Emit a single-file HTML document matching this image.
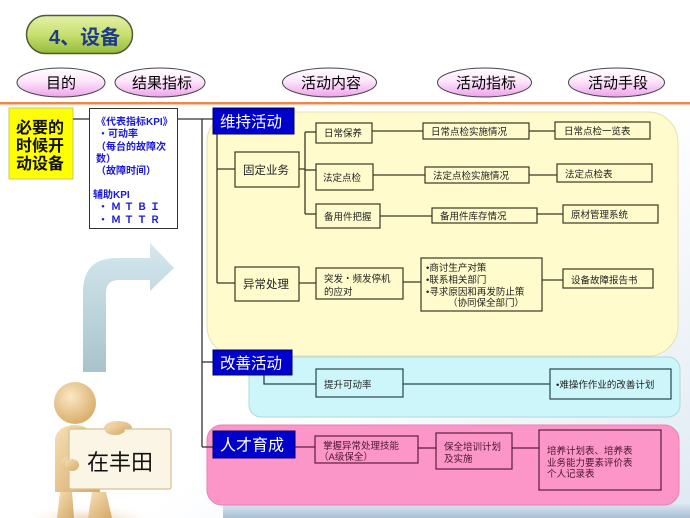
<!DOCTYPE html>
<html><head><meta charset="utf-8">
<style>
html,body{margin:0;padding:0;background:#fff;}
svg{display:block;}
text{font-family:"Liberation Sans","Noto Sans CJK SC",sans-serif;}
</style></head>
<body>
<svg width="690" height="518" viewBox="0 0 690 518" xmlns="http://www.w3.org/2000/svg">
<defs>
  <linearGradient id="bgR" x1="0" y1="0" x2="1" y2="1">
    <stop offset="0" stop-color="#ffffff"/>
    <stop offset="0.6" stop-color="#ffffff"/>
    <stop offset="1" stop-color="#dfe9f3"/>
  </linearGradient>
  <linearGradient id="bot" x1="0" y1="0" x2="0" y2="1">
    <stop offset="0" stop-color="#dbe6f0"/>
    <stop offset="1" stop-color="#a9bfd6"/>
  </linearGradient>
  <linearGradient id="pill" x1="0" y1="0" x2="0" y2="1">
    <stop offset="0" stop-color="#e4f0a8"/>
    <stop offset="0.5" stop-color="#c8e070"/>
    <stop offset="1" stop-color="#94bb38"/>
  </linearGradient>
  <linearGradient id="ell" x1="0" y1="0" x2="0" y2="1">
    <stop offset="0" stop-color="#ffffff"/>
    <stop offset="0.45" stop-color="#fde6fb"/>
    <stop offset="1" stop-color="#efa2ec"/>
  </linearGradient>
  <linearGradient id="arr" x1="0" y1="0" x2="0" y2="1">
    <stop offset="0" stop-color="#d4e8ee"/>
    <stop offset="1" stop-color="#a9c3cb"/>
  </linearGradient>
  <linearGradient id="skin" x1="0" y1="0" x2="1" y2="1">
    <stop offset="0" stop-color="#f6dfb4"/>
    <stop offset="1" stop-color="#d5a868"/>
  </linearGradient>
  <radialGradient id="head" cx="0.4" cy="0.35" r="0.7">
    <stop offset="0" stop-color="#fbe8c4"/>
    <stop offset="1" stop-color="#d7aa66"/>
  </radialGradient>
  <radialGradient id="glow" cx="0.5" cy="0.8" r="0.6">
    <stop offset="0" stop-color="#e8c898"/>
    <stop offset="1" stop-color="#ffffff" stop-opacity="0"/>
  </radialGradient>
</defs>

<!-- background -->
<rect x="0" y="0" width="690" height="518" fill="url(#bgR)"/>
<rect x="223" y="504" width="467" height="14" fill="url(#bot)"/>

<!-- title pill -->
<rect x="26.5" y="15.5" width="106" height="38" rx="19" fill="url(#pill)" stroke="#4d5a3a" stroke-width="1.5"/>
<text x="49" y="44" font-size="20" font-weight="bold" fill="#1e3a8a">4、设备</text>

<!-- header ellipses -->
<ellipse cx="61" cy="82.5" rx="44" ry="14.5" fill="url(#ell)" stroke="#444" stroke-width="1"/>
<text x="61" y="88" font-size="15" text-anchor="middle" fill="#000">目的</text>
<ellipse cx="160" cy="82.5" rx="45" ry="14.5" fill="url(#ell)" stroke="#444" stroke-width="1"/>
<text x="162" y="88" font-size="15" text-anchor="middle" fill="#000">结果指标</text>
<ellipse cx="329.5" cy="82.5" rx="47" ry="14.5" fill="url(#ell)" stroke="#444" stroke-width="1"/>
<text x="331" y="88" font-size="15" text-anchor="middle" fill="#000">活动内容</text>
<ellipse cx="484.5" cy="82.5" rx="47" ry="14.5" fill="url(#ell)" stroke="#444" stroke-width="1"/>
<text x="486" y="88" font-size="15" text-anchor="middle" fill="#000">活动指标</text>
<ellipse cx="616.5" cy="82.5" rx="48" ry="14.5" fill="url(#ell)" stroke="#444" stroke-width="1"/>
<text x="618" y="88" font-size="15" text-anchor="middle" fill="#000">活动手段</text>

<!-- orange rule -->
<rect x="0" y="102" width="690" height="2.5" fill="#e8894a"/>

<!-- regions -->
<rect x="207" y="112" width="471" height="244" rx="30" fill="#fffbcc" stroke="#e6e0b0" stroke-width="1"/>
<rect x="249" y="357" width="431" height="60" rx="12" fill="#ccf6f9" stroke="#a9d9de" stroke-width="1"/>
<rect x="207" y="425" width="472" height="80" rx="15" fill="#fd96c8" stroke="#e680b4" stroke-width="1"/>

<!-- left purpose box -->
<rect x="9" y="108" width="64" height="71" fill="#ffff00" stroke="#c8c870" stroke-width="1"/>
<text font-size="16" font-weight="bold" fill="#111">
  <tspan x="16" y="133">必要的</tspan>
  <tspan x="16" y="151">时候开</tspan>
  <tspan x="16" y="169">动设备</tspan>
</text>

<!-- KPI box -->
<rect x="89.5" y="108.5" width="88" height="120" fill="#fff" stroke="#333" stroke-width="1"/>
<text font-size="10" font-weight="bold" fill="#1a1ad0">
  <tspan x="96" y="125">《代表指标KPI》</tspan>
  <tspan x="98" y="137">・可动率</tspan>
  <tspan x="96" y="150">（每台的故障次</tspan>
  <tspan x="96" y="162">数）</tspan>
  <tspan x="96" y="174">（故障时间）</tspan>
  <tspan x="93" y="198">辅助KPI</tspan>
  <tspan x="98" y="210" letter-spacing="3">・ＭＴＢＩ</tspan>
  <tspan x="98" y="223" letter-spacing="3">・ＭＴＴＲ</tspan>
</text>

<!-- main connectors -->
<g stroke="#333" stroke-width="1.3" fill="none">
  <line x1="73" y1="119" x2="89" y2="119"/>
  <line x1="177" y1="119" x2="213" y2="119"/>
  <line x1="202" y1="119" x2="202" y2="447"/>
  <line x1="202" y1="362" x2="213" y2="362"/>
  <line x1="202" y1="447" x2="213" y2="447"/>
</g>

<!-- yellow region connectors -->
<g stroke="#3b3826" stroke-width="1.3" fill="none">
  <line x1="217" y1="134" x2="217" y2="283"/>
  <line x1="217" y1="169" x2="235" y2="169"/>
  <line x1="217" y1="283" x2="235" y2="283"/>
  <line x1="299" y1="169" x2="305" y2="169"/>
  <line x1="305" y1="132" x2="305" y2="214"/>
  <line x1="305" y1="132" x2="316" y2="132"/>
  <line x1="305" y1="170" x2="316" y2="170"/>
  <line x1="305" y1="214" x2="316" y2="214"/>
  <line x1="372" y1="131" x2="423" y2="131"/>
  <line x1="373" y1="175" x2="425" y2="175"/>
  <line x1="380" y1="216" x2="432" y2="216"/>
  <line x1="529" y1="131" x2="555" y2="131"/>
  <line x1="529" y1="175" x2="557" y2="175"/>
  <line x1="537" y1="214" x2="563" y2="214"/>
  <line x1="299" y1="283" x2="316" y2="283"/>
  <line x1="403" y1="282" x2="421" y2="282"/>
  <line x1="542" y1="280" x2="563" y2="280"/>
</g>

<!-- yellow region boxes -->
<g fill="#fffbcc" stroke="#3b3826" stroke-width="1.2">
  <rect x="235" y="152" width="64" height="35"/>
  <rect x="316" y="123" width="56" height="20"/>
  <rect x="316" y="164" width="57" height="26"/>
  <rect x="316" y="204" width="64" height="24"/>
  <rect x="423" y="123" width="106" height="16"/>
  <rect x="425" y="167" width="104" height="16"/>
  <rect x="432" y="208" width="105" height="15"/>
  <rect x="555" y="122" width="95" height="17"/>
  <rect x="557" y="164" width="95" height="18"/>
  <rect x="563" y="205" width="95" height="18"/>
  <rect x="235" y="267" width="64" height="34"/>
  <rect x="316" y="268" width="87" height="31"/>
  <rect x="421" y="258" width="121" height="53"/>
  <rect x="563" y="269" width="90" height="19"/>
</g>
<g font-size="11.5" fill="#222">
  <text x="243" y="174">固定业务</text>
  <text x="243" y="288">异常处理</text>
</g>
<g font-size="9.5" fill="#222">
  <text x="324" y="136.5">日常保养</text>
  <text x="323" y="181">法定点检</text>
  <text x="324" y="220">备用件把握</text>
  <text x="431" y="135">日常点检实施情况</text>
  <text x="433" y="179">法定点检实施情况</text>
  <text x="440" y="219.5">备用件库存情况</text>
  <text x="564" y="134.5">日常点检一览表</text>
  <text x="565" y="177.5">法定点检表</text>
  <text x="571" y="218">原材管理系统</text>
  <text x="324" y="282">突发・频发停机</text>
  <text x="324" y="295">的应对</text>
  <text x="426" y="271">•商讨生产对策</text>
  <text x="426" y="283">•联系相关部门</text>
  <text x="426" y="295">•寻求原因和再发防止策</text>
  <text x="448" y="306">（协同保全部门）</text>
  <text x="571" y="283.5">设备故障报告书</text>
</g>

<!-- cyan region -->
<g stroke="#26454c" stroke-width="1.3" fill="none">
  <polyline points="264,375 264,384 316,384"/>
  <line x1="403" y1="384" x2="550" y2="384"/>
</g>
<g fill="#ccf6f9" stroke="#26454c" stroke-width="1.2">
  <rect x="316" y="369" width="87" height="28"/>
  <rect x="550" y="369" width="121" height="30"/>
</g>
<g font-size="9.5" fill="#222">
  <text x="324" y="388">提升可动率</text>
  <text x="556" y="388">•难操作作业的改善计划</text>
</g>

<!-- pink region -->
<g stroke="#5c1d3c" stroke-width="1.3" fill="none">
  <line x1="295" y1="447" x2="315" y2="447"/>
  <line x1="418" y1="448" x2="436" y2="448"/>
  <line x1="512" y1="448" x2="539" y2="448"/>
</g>
<g fill="#fd96c8" stroke="#5c1d3c" stroke-width="1.2">
  <rect x="315" y="436" width="103" height="27"/>
  <rect x="436" y="433" width="76" height="36"/>
  <rect x="539" y="430" width="122" height="60"/>
</g>
<g font-size="9.5" fill="#4a1530">
  <text x="323" y="449">掌握异常处理技能</text>
  <text x="319" y="460">（A级保全）</text>
  <text x="444" y="450">保全培训计划</text>
  <text x="444" y="462">及实施</text>
  <text x="547" y="454">培养计划表、培养表</text>
  <text x="547" y="466">业务能力要素评价表</text>
  <text x="547" y="477">个人记录表</text>
</g>

<!-- blue category boxes -->
<rect x="213" y="108" width="81" height="26" fill="#0000cc" stroke="#000066" stroke-width="1"/>
<text x="220" y="127" font-size="15.5" fill="#fff">维持活动</text>
<rect x="213" y="350" width="79" height="25" fill="#0000cc" stroke="#000066" stroke-width="1"/>
<text x="220" y="368.5" font-size="15.5" fill="#fff">改善活动</text>
<rect x="213" y="431" width="82" height="27" fill="#0000cc" stroke="#000066" stroke-width="1"/>
<text x="220" y="450.5" font-size="16" fill="#fff">人才育成</text>

<!-- bent arrow -->
<path d="M83,372 L83,292 Q83,258 117,258 L150,258 L150,243 L174,268 L150,291 L150,280 L119,280 Q106,280 106,293 L106,372 Z" fill="url(#arr)"/>

<!-- person -->
<ellipse cx="90" cy="512" rx="60" ry="14" fill="url(#glow)"/>
<path d="M57,518 L60,492 L72,492 L74,518 Z" fill="url(#skin)"/>
<path d="M88,518 L92,492 L106,492 L112,518 Z" fill="url(#skin)"/>
<path d="M55,438 Q58,426 75,425 Q92,426 96,440 L100,492 L55,492 Z" fill="url(#skin)"/>
<ellipse cx="70" cy="463" rx="9" ry="7" fill="url(#skin)"/>
<ellipse cx="118" cy="428" rx="14" ry="7" fill="url(#skin)"/>
<circle cx="75" cy="403" r="21" fill="url(#head)"/>
<rect x="69" y="429" width="102" height="60" rx="2" fill="#fbf5e6" stroke="#d6c08e" stroke-width="1.2"/>
<ellipse cx="72" cy="465" rx="7" ry="6" fill="url(#skin)"/>
<ellipse cx="115" cy="430" rx="10" ry="5" fill="url(#skin)"/>
<text x="120" y="470" font-size="22" text-anchor="middle" fill="#111">在丰田</text>
</svg>
</body></html>
